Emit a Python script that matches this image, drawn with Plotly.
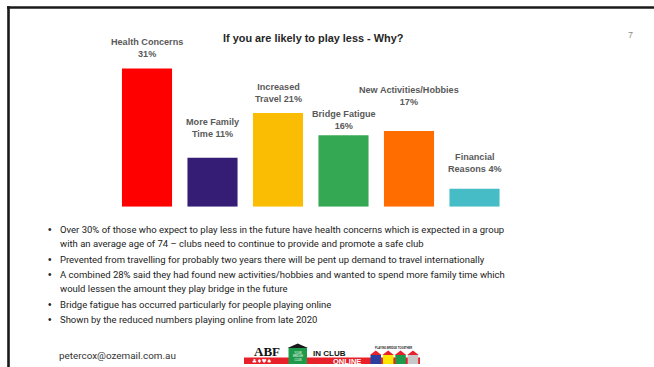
import plotly.graph_objects as go

W, H = 654, 367

categories = ["Health Concerns", "More Family Time", "Increased Travel",
              "Bridge Fatigue", "New Activities/Hobbies", "Financial Reasons"]
values = [31, 11, 21, 16, 17, 4]
bar_labels = ["Health Concerns<br>31%", "More Family<br>Time 11%", "Increased<br>Travel 21%",
              "Bridge Fatigue<br>16%", "New Activities/Hobbies<br>17%", "Financial<br>Reasons 4%"]
colors = ["#FF0000", "#351C75", "#FBBC04", "#34A853", "#FF6D01", "#46BDC6"]
label_shift = [20, 30, 20, 15, 35, 26]  # px above bar top (layout only)

title_text = "If you are likely to play less - Why?"
bullet_lines = [
    (True, "Over 30% of those who expect to play less in the future have health concerns which is expected in a group"),
    (False, "with an average age of 74 \u2013 clubs need to continue to provide and promote a safe club"),
    (True, "Prevented from travelling for probably two years there will be pent up demand to travel internationally"),
    (True, "A combined 28% said they had found new activities/hobbies and wanted to spend more family time which"),
    (False, "would lessen the amount they play bridge in the future"),
    (True, "Bridge fatigue has occurred particularly for people playing online"),
    (True, "Shown by the reduced numbers playing online from late 2020"),
]
bullet_y = [229.5, 243.5, 259.5, 274.5, 288.5, 304.5, 319.5]
email = "petercox@ozemail.com.au"
page_no = "7"


def X(px):
    return px / W


def Y(py):
    return 1 - py / H


# plot area geometry
base_px = 206.7
px_per_unit = 4.46
ymax = 35
top_px = base_px - ymax * px_per_unit

fig = go.Figure(go.Bar(
    x=categories, y=values, marker=dict(color=colors, line=dict(width=0)),
    hoverinfo="skip", showlegend=False,
))

BODY_FONT = "Roboto, sans-serif"
annotations = []
for cat, v, lab, sh in zip(categories, values, bar_labels, label_shift):
    annotations.append(dict(
        x=cat, y=v, xref="x", yref="y", text="<b>" + lab + "</b>", showarrow=False,
        yanchor="middle", yshift=sh, align="center",
        font=dict(family="Liberation Sans, Arial", size=9.1, color="#595959")))

annotations.append(dict(x=X(313), y=Y(38), xref="paper", yref="paper",
                        text="<b>" + title_text + "</b>", showarrow=False,
                        xanchor="center", yanchor="middle",
                        font=dict(family="Liberation Sans, Arial", size=10.9, color="#262626")))
annotations.append(dict(x=X(630), y=Y(35), xref="paper", yref="paper", text=page_no,
                        showarrow=False, xanchor="center", yanchor="middle",
                        font=dict(family="Liberation Sans, Arial", size=9, color="#8c8c8c")))

for (is_b, txt), yy in zip(bullet_lines, bullet_y):
    if is_b:
        annotations.append(dict(x=X(49.5), y=Y(yy), xref="paper", yref="paper", text="\u2022",
                                showarrow=False, xanchor="center", yanchor="middle",
                                font=dict(family="Liberation Sans", size=10, color="#222222")))
    annotations.append(dict(x=X(58), y=Y(yy), xref="paper", yref="paper", text=txt,
                            showarrow=False, xanchor="left", yanchor="middle",
                            font=dict(family=BODY_FONT, size=9.5, color="#222222")))

annotations.append(dict(x=X(56.5), y=Y(355), xref="paper", yref="paper", text=email,
                        showarrow=False, xanchor="left", yanchor="middle",
                        font=dict(family=BODY_FONT, size=9.9, color="#333333")))

# ---- logo (approximation) ----
shapes = []


def rect(x0, y0, x1, y1, color):
    shapes.append(dict(type="rect", xref="paper", yref="paper", x0=X(x0), x1=X(x1),
                       y0=Y(y1), y1=Y(y0), fillcolor=color, line=dict(width=0), layer="above"))


def tri(x0, x1, ybase, ytop, color):
    xm = (x0 + x1) / 2
    path = f"M {X(x0)} {Y(ybase)} L {X(xm)} {Y(ytop)} L {X(x1)} {Y(ybase)} Z"
    shapes.append(dict(type="path", xref="paper", yref="paper", path=path,
                       fillcolor=color, line=dict(width=0), layer="above"))


rect(244, 357.5, 420, 364, "#E8202A")
# green house box
rect(288.5, 348, 307, 364, "#1E9B4A")
tri(287.5, 308, 348, 343.5, "#1a1a1a")
# houses
hcols = ["#2B3FA0", "#FFE600", "#1E9B4A", "#C8C8C8"]
for i, c in enumerate(hcols):
    x0 = 370.5 + i * 12.4
    rect(x0, 355, x0 + 10.5, 364, c)
    tri(x0 - 0.5, x0 + 11, 355, 350.5, "#E8202A")

annotations += [
    dict(x=X(266.5), y=Y(351.5), xref="paper", yref="paper", text="<b>ABF</b>", showarrow=False,
         xanchor="center", yanchor="middle",
         font=dict(family="Liberation Serif, serif", size=13, color="#111111")),
    dict(x=X(262), y=Y(361), xref="paper", yref="paper", text="\u2663\u2666\u2665\u2660",
         showarrow=False, xanchor="center", yanchor="middle",
         font=dict(family="DejaVu Sans", size=5.5, color="#ffffff")),
    dict(x=X(297.7), y=Y(356), xref="paper", yref="paper", text="YOUR<br>BRIDGE<br>CLUB",
         showarrow=False, xanchor="center", yanchor="middle",
         font=dict(family="Liberation Sans", size=2.6, color="#ffffff")),
    dict(x=X(329.5), y=Y(353), xref="paper", yref="paper", text="<b>IN CLUB</b>", showarrow=False,
         xanchor="center", yanchor="middle",
         font=dict(family="Liberation Sans, Arial", size=8, color="#111111")),
    dict(x=X(346.5), y=Y(361), xref="paper", yref="paper", text="<b>ONLINE</b>", showarrow=False,
         xanchor="center", yanchor="middle",
         font=dict(family="Liberation Sans, Arial", size=7.5, color="#ffffff")),
    dict(x=X(393.5), y=Y(348.3), xref="paper", yref="paper", text="<b>PLAYING BRIDGE TOGETHER</b>",
         showarrow=False, xanchor="center", yanchor="middle",
         font=dict(family="Liberation Sans", size=2.6, color="#222222")),
]

# page border (top and left)
shapes.append(dict(type="line", xref="paper", yref="paper", x0=X(7), x1=1, y0=Y(7.5), y1=Y(7.5),
                   line=dict(color="#1a1a1a", width=2.6), layer="above"))
shapes.append(dict(type="line", xref="paper", yref="paper", x0=X(8.5), x1=X(8.5), y0=0, y1=Y(6.2),
                   line=dict(color="#1a1a1a", width=2.6), layer="above"))

x_left = 147 - 65.5 / 2
x_right = x_left + 6 * 65.5

fig.update_layout(
    width=W, height=H, margin=dict(l=0, r=0, t=0, b=0),
    paper_bgcolor="white", plot_bgcolor="white",
    bargap=0.235,
    xaxis=dict(domain=[X(x_left), X(x_right)], range=[-0.5, 5.5], visible=False, fixedrange=True),
    yaxis=dict(domain=[Y(base_px), Y(top_px)], range=[0, ymax], visible=False, fixedrange=True),
    annotations=annotations, shapes=shapes, showlegend=False,
)

fig.write_html("out.html")
